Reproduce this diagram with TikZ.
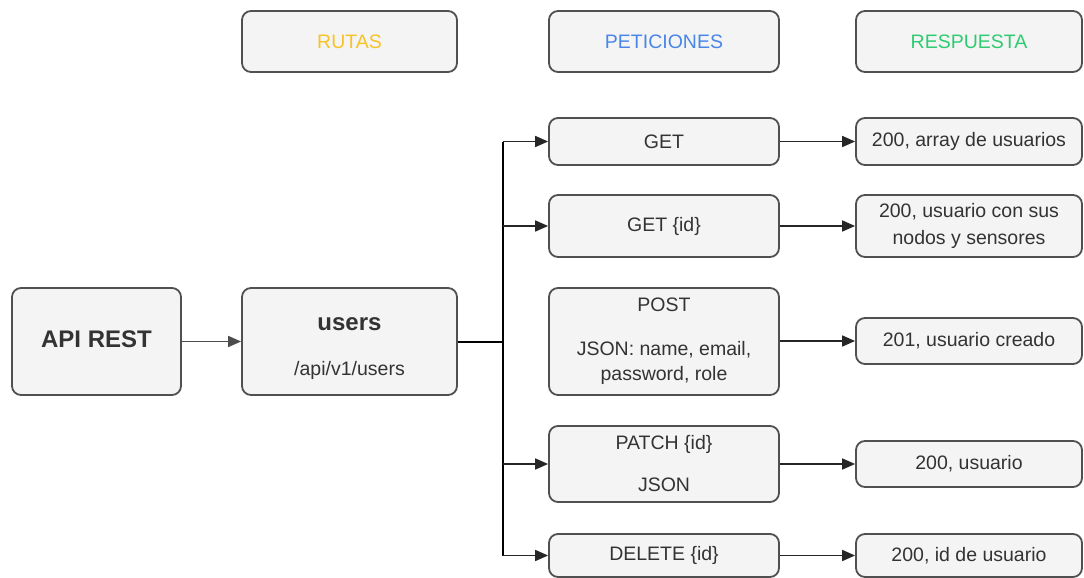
\documentclass[tikz,border=0pt]{standalone}
\usepackage{fontspec}
\setmainfont{Liberation Sans}
\usetikzlibrary{arrows.meta}
\definecolor{boxfill}{HTML}{F4F4F4}
\definecolor{boxline}{HTML}{505050}
\definecolor{txt}{HTML}{333333}
\definecolor{ruta}{HTML}{F7C325}
\definecolor{peti}{HTML}{4A86E8}
\definecolor{resp}{HTML}{2ECC71}
\begin{document}
\begin{tikzpicture}[x=1pt,y=-1pt,
  box/.style={draw=boxline, fill=boxfill, line width=1.8pt, rounded corners=9pt,
    inner sep=0pt, align=center, text=txt, font=\fontsize{19.5}{25}\selectfont},
  conn/.style={draw=black!85, line width=1.7pt, -{Triangle[length=13pt,width=11pt]}},
  trunk/.style={draw=black, line width=2pt}]
\useasboundingbox (0,0) rectangle (1084,578);
% headers
\node[box, minimum width=215pt, minimum height=61pt, text=ruta] (rutas) at (349.5,41.5) {RUTAS};
\node[box, minimum width=230pt, minimum height=61pt, text=peti] (peticiones) at (664,41.5) {PETICIONES};
\node[box, minimum width=226pt, minimum height=61pt, text=resp] (respuesta) at (969,41.5) {RESPUESTA};
% main
\node[box, minimum width=169pt, minimum height=107pt, font=\fontsize{24}{28}\selectfont\bfseries] (api) at (96.5,341.5) {API REST\rule[-5pt]{0pt}{5pt}};
\node[box, minimum width=215pt, minimum height=107pt] (users) at (349.5,341.5) {\rule{0pt}{28pt}{\fontsize{24}{28}\selectfont\bfseries users}\\[20pt]/api/v1/users};
% requests
\node[box, minimum width=230pt, minimum height=47pt] (get) at (664,141.5) {GET};
\node[box, minimum width=230pt, minimum height=62pt] (getid) at (664,226) {GET \{id\}};
\node[box, minimum width=230pt, minimum height=107pt] (post) at (664,341.5) {POST\\[19pt]JSON: name, email,\\password, role};
\node[box, minimum width=230pt, minimum height=76pt] (patch) at (664,464) {PATCH \{id\}\\[17pt]JSON};
\node[box, minimum width=230pt, minimum height=43pt] (del) at (664,555.5) {DELETE \{id\}};
% responses
\node[box, minimum width=226pt, minimum height=47pt] (r1) at (969,141.5) {200, array de usuarios};
\node[box, minimum width=226pt, minimum height=62pt] (r2) at (969,226) {200, usuario con sus\\[2pt]nodos y sensores};
\node[box, minimum width=226pt, minimum height=46pt] (r3) at (969,341) {201, usuario creado};
\node[box, minimum width=226pt, minimum height=46pt] (r4) at (969,464) {200, usuario};
\node[box, minimum width=226pt, minimum height=43pt] (r5) at (969,555.5) {200, id de usuario};
% connectors
\coordinate (j) at (503,341.5);
\draw[conn, draw=black!70] (api) -- (users);
\draw[trunk] (users.east) -- (j);
\draw[trunk] (j |- get) -- (j |- del);
\draw[conn] (j |- get) -- (get.west);
\draw[conn] (j |- getid) -- (getid.west);
\draw[conn] (j |- patch) -- (patch.west);
\draw[conn] (j |- del) -- (del.west);
\draw[conn] (get) -- (r1);
\draw[conn] (getid) -- (r2);
\draw[conn] (post.east |- r3) -- (r3);
\draw[conn] (patch) -- (r4);
\draw[conn] (del) -- (r5);
\end{tikzpicture}
\end{document}
